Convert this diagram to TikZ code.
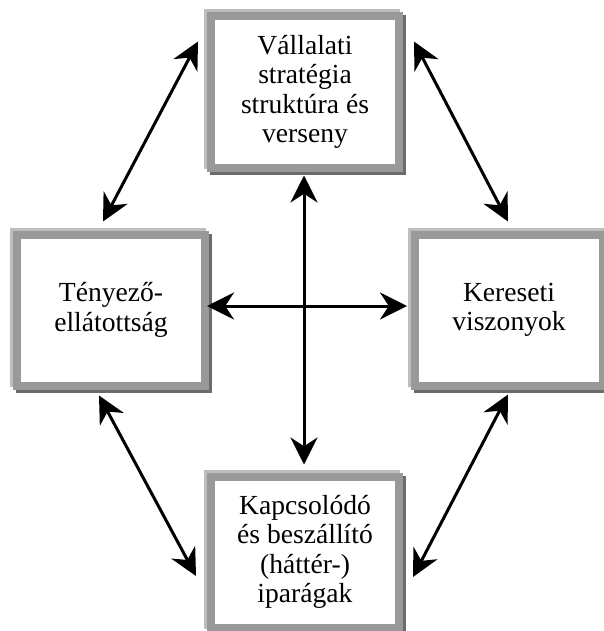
\documentclass[tikz,border=0pt]{standalone}
\usepackage{fontspec}
\setmainfont{Liberation Serif}
\usepackage{xcolor}
\usetikzlibrary{arrows.meta,positioning}

\definecolor{boxgray}{gray}{0.60}
\definecolor{boxlight}{gray}{0.74}
\definecolor{boxdark}{gray}{0.42}

\begin{document}
\begin{tikzpicture}[
  x=0.5pt, y=-0.5pt,
  box/.style={draw=boxgray, line width=4pt, fill=white, align=center,
              minimum width=94pt, minimum height=75.5pt, inner sep=2pt,
              font=\fontsize{13.8}{14.7}\selectfont,
              preaction={draw=boxlight, line width=4pt,
                         transform canvas={shift={(-1.5pt,1.5pt)}}},
              preaction={draw=boxdark, line width=4pt,
                         transform canvas={shift={(1.5pt,-1.5pt)}}}},
  arr/.style={{Stealth[length=13.5pt,width=13.5pt]}-{Stealth[length=13.5pt,width=13.5pt]},
              line width=1.5pt}
]
\useasboundingbox (0,0) rectangle (604,631);

\node[box] (strat) at (305,92) {Vállalati\\stratégia\\struktúra és\\verseny};
\node[box] (factor) at (111,310) {Tényező-\\ellátottság};
\node[box] (demand) at (509,310) {Kereseti\\viszonyok};
\node[box] (supp) at (305,552) {Kapcsolódó\\és beszállító\\(háttér-)\\iparágak};

\draw[arr] ([shift={(-8,-9)}]factor.north) -- ([shift={(-9,29)}]strat.north west);
\draw[arr] ([shift={(11,29)}]strat.north east) -- ([shift={(-1,-9)}]demand.north);
\draw[arr] ([shift={(-12,6)}]factor.south) -- ([shift={(-11,24)}]supp.west);
\draw[arr] ([shift={(-1,5)}]demand.south) -- ([shift={(10,25)}]supp.east);
\draw[arr] ([shift={(-1,4)}]strat.south) -- ([shift={(-1,-8)}]supp.north);
\draw[arr] ([shift={(-2,-4)}]factor.east) -- ([shift={(-4,-4)}]demand.west);
\end{tikzpicture}
\end{document}
